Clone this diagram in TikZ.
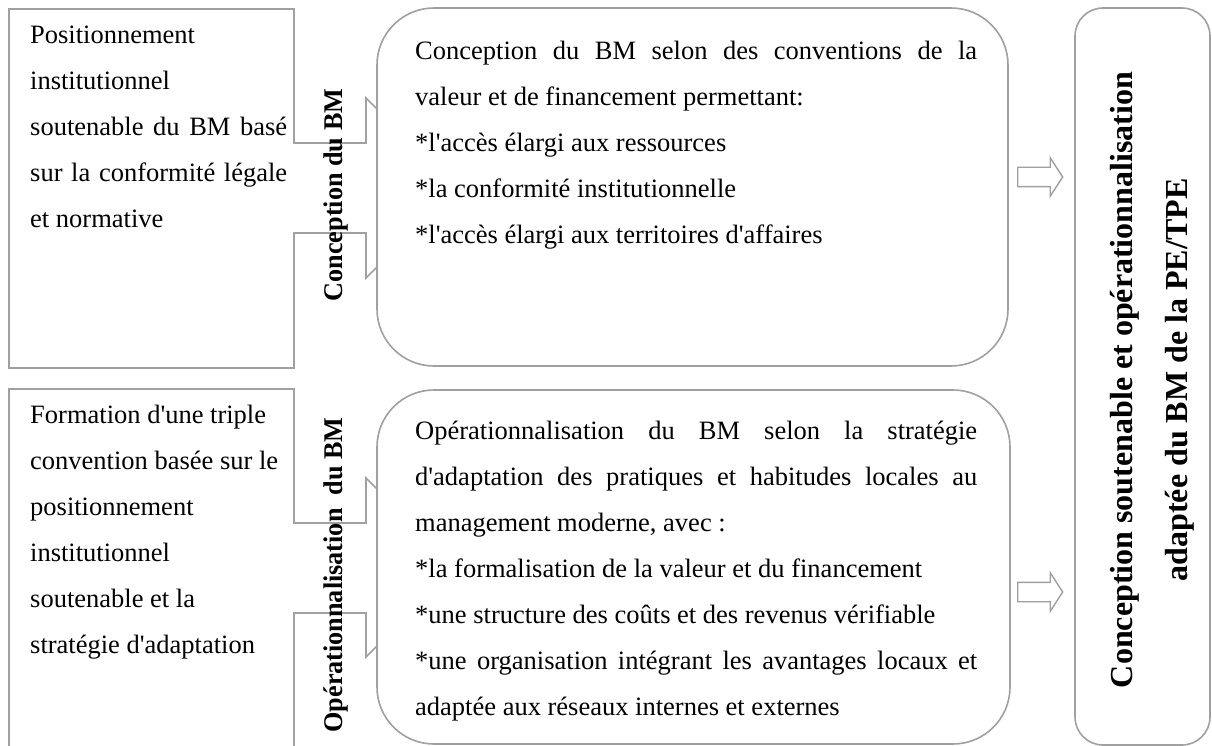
\documentclass[tikz,border=0pt]{standalone}
\usepackage{graphicx}
\usepackage{fontspec}
\setmainfont{Liberation Serif}[Ligatures=TeXOff]
\usetikzlibrary{shapes.arrows}
\definecolor{edgegray}{RGB}{160,160,160}
\newcommand{\bodyfont}{\fontsize{26.5}{46}\selectfont}
\newcommand{\firststrut}{\spaceskip=0pt\xspaceskip=0pt\relax\leavevmode\rule{0pt}{22pt}}
\newcommand{\jline}[2]{\leavevmode\hbox to #1{\spaceskip=0.25em plus 1fil\relax #2}}
\begin{document}
\begin{tikzpicture}[x=1pt,y=-1pt,
  outline/.style={draw=edgegray, line width=1.6pt, fill=white, line join=miter},
  panel/.style={outline, rounded corners=57pt, inner sep=0pt},
  resultbox/.style={outline, rounded corners=28pt, inner sep=0pt},
  txt/.style={anchor=north west, inner sep=0pt, text width=600pt, align=left, font=\bodyfont},
  sidelabel/.style={rotate=90, anchor=base, inner sep=0pt, font=\fontsize{27}{34}\selectfont\bfseries},
  resultlabel/.style={rotate=90, anchor=base, inner sep=0pt, font=\fontsize{32}{40}\selectfont\bfseries},
  blockarrow/.style={single arrow, draw=edgegray, line width=1.4pt, fill=white, anchor=tail,
    minimum height=45pt, inner xsep=0pt, inner ysep=9pt, single arrow head extend=9.5pt,
    single arrow tip angle=114, single arrow head indent=0pt}]
\useasboundingbox (0,0) rectangle (1212,746);
\clip (0,0) rectangle (1212,746);
\fill[white] (0,0) rectangle (1212,746);

% left callout shapes
\draw[outline] (9,9) -- (294,9) -- (294,143) -- (366,143) -- (366,98) -- (456,188)
  -- (366,278) -- (366,233) -- (294,233) -- (294,368) -- (9,368) -- cycle;
\draw[outline] (9,389) -- (294,389) -- (294,523) -- (366,523) -- (366,478) -- (455.5,567.5)
  -- (366,657) -- (366,613) -- (294,613) -- (294,770) -- (9,770) -- cycle;

% side labels
\node[sidelabel] (lab1) at (342,195) {\scalebox{0.97}[1]{Conception du BM}};
\node[sidelabel] (lab2) at (342,575) {\scalebox{0.97}[1]{Opérationnalisation\ \ du BM}};

% rounded panels
\node[panel, minimum width=631pt, minimum height=358pt] (conc) at (692.5,187) {};
\node[panel, minimum width=633pt, minimum height=354pt] (oper) at (693.5,567) {};

% left texts
\node[txt] (t1) at (30,21) {\firststrut Positionnement\\
institutionnel\\
\jline{257pt}{soutenable du BM basé}\\
\jline{257pt}{sur la conformité légale}\\
et normative};
\node[txt] (t2) at (30,401) {\firststrut Formation d'une triple\\
convention basée sur le\\
positionnement\\
institutionnel\\
soutenable et la\\
stratégie d'adaptation};

% panel texts
\node[txt] (t3) at (415,37) {\firststrut\jline{562pt}{Conception du BM selon des conventions de la}\\
valeur et de financement permettant:\\\relax
*l'accès élargi aux ressources\\\relax
*la conformité institutionnelle\\\relax
*l'accès élargi aux territoires d'affaires};
\node[txt] (t4) at (415,417) {\firststrut\jline{562pt}{Opérationnalisation du BM selon la stratégie}\\
\jline{562pt}{d'adaptation des pratiques et habitudes locales au}\\
management moderne, avec :\\\relax
*la formalisation de la valeur et du financement\\\relax
*une structure des coûts et des revenus vérifiable\\
\jline{562pt}{*une organisation intégrant les avantages locaux et}\\
adaptée aux réseaux internes et externes};

% result box
\node[resultbox, minimum width=135pt, minimum height=737pt] (res) at (1142.5,376.5) {};
\node[resultlabel] (r1) at (1132,380) {Conception soutenable et opérationnalisation};
\node[resultlabel] (r2) at (1187,380) {adaptée du BM de la PE/TPE};

% block arrows
\node[blockarrow] (a1) at (1017,177) {};
\node[blockarrow] (a2) at (1017,592) {};
\end{tikzpicture}
\end{document}
